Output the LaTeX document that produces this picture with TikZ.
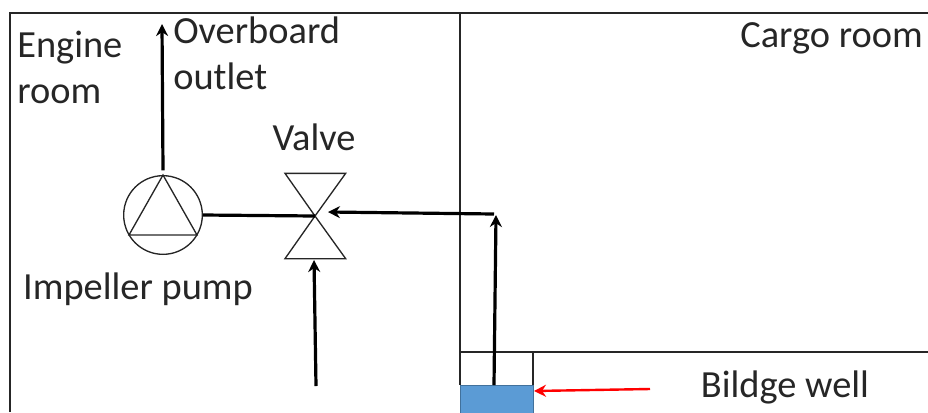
\documentclass[tikz,border=0pt]{standalone}
\usepackage{fontspec}
\setmainfont{Carlito}
\usepackage{tikz}
\usetikzlibrary{arrows.meta,calc}

\begin{document}
\begin{tikzpicture}[x=0.75pt,y=-0.75pt]
    \tikzstyle{wall} = [
      line width=1pt,
      draw=black!85,
    ]
    \tikzstyle{symbol} = [
      line width=1pt,
      draw=black!85,
    ]
    \tikzstyle{label} = [
      inner sep=0pt,
      align=left,
      text=black!85,
      font=\fontsize{28.8}{34.5}\selectfont,
    ]
    \tikzstyle{pipe} = [
      line width=2.4pt,
      draw=black,
    ]
    \tikzstyle{arrow} = [
      pipe,
      -{Stealth[length=9pt,width=9pt]},
    ]
    \tikzstyle{pump} = [
      circle,
      symbol,
      minimum size=59pt,
      inner sep=0pt,
    ]

    \useasboundingbox (0,0) rectangle (928,412);

    \coordinate (valveAnchor) at (315,216);
    \coordinate (wellAnchor) at (460,352);

    % walls
    {
      \draw[wall] (10,412) -- (10,13) -- (928,13);
      \draw[wall] (460,13) -- (wellAnchor) -- (460,385);
      \draw[wall] (wellAnchor) -- (928,352);
      \draw[wall] (533,352) -- (533,385);
    }

    % bilge water
    {
      \node[rectangle, fill={rgb,255:red,91;green,155;blue,213}, draw={rgb,255:red,65;green,113;blue,156}, line width=0.6pt, anchor=north west, minimum width=55pt, minimum height=23pt, inner sep=0pt] (water) at (460,385) {};
    }

    % pump
    {
      \node[pump] (pump) at (163,215) {};
      \draw[symbol] (pump.north) -- (129,235) -- (197,235) -- cycle;
      \node[label] (pumpLabel) at (138,289) {Impeller pump};
    }

    % valve
    {
      \draw[symbol] (valveAnchor) -- ([xshift=-22.5pt, yshift=32pt] valveAnchor) -- ([xshift=23pt, yshift=32pt] valveAnchor) -- cycle;
      \draw[symbol] (valveAnchor) -- ([xshift=-22.5pt, yshift=-32pt] valveAnchor) -- ([xshift=23pt, yshift=-32pt] valveAnchor) -- cycle;
      \node[label] (valveLabel) at (314,137) {Valve};
    }

    % pipes
    {
      \coordinate (outletEnd) at (162,24);
      \coordinate (suctionStart) at (316,386);
      \coordinate (suctionEnd) at (314,260);
      \coordinate (riserEnd) at (496,215);
      \coordinate (riserTop) at (494,214);
      \coordinate (valveInlet) at (328,212);

      \draw[arrow] ([yshift=3.5pt] pump.north) -- (outletEnd);
      \draw[pipe] (pump.east) -- (valveAnchor);
      \draw[arrow] (suctionStart) -- (suctionEnd);
      \draw[arrow] (water.north -| 494,0) -- (riserEnd);
      \draw[arrow] (riserTop) -- (valveInlet);
    }

    % well pointer
    {
      \coordinate (pointerStart) at (650,389);
      \coordinate (pointerEnd) at (534,391);
      \draw[pipe, draw=red, line width=1.8pt, -{Stealth[length=9pt,width=9pt]}] (pointerStart) -- (pointerEnd);
    }

    % texts
    {
      \node[label, anchor=west] (engineLabel) at (17,67) {Engine\\room};
      \node[label, anchor=west] (outletLabel) at (173,53) {Overboard\\outlet};
      \node[label, anchor=east] (cargoLabel) at (923,38) {Cargo room};
      \node[label] (wellLabel) at (785,387) {Bildge well};
    }
\end{tikzpicture}
\end{document}
